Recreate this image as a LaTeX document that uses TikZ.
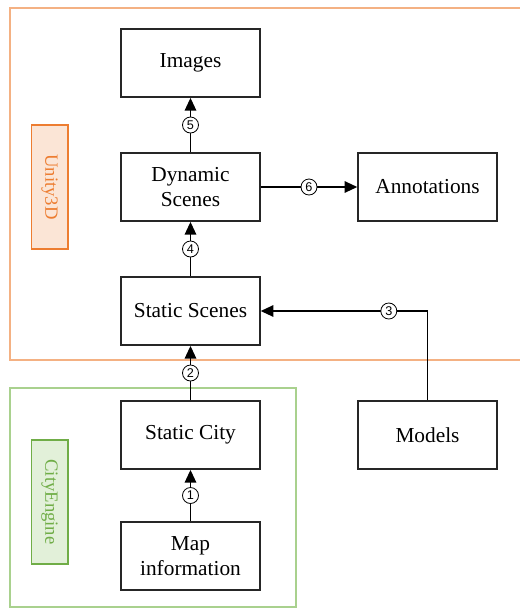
\documentclass[tikz,border=0pt]{standalone}
\usepackage{fontspec}
\setmainfont{Liberation Serif}
\setsansfont{Liberation Sans}
\usetikzlibrary{arrows.meta}
\definecolor{unityline}{HTML}{F4B183}
\definecolor{unitydark}{HTML}{ED7D31}
\definecolor{unityfill}{HTML}{FBE5D6}
\definecolor{cityline} {HTML}{A9D18E}
\definecolor{citydark} {HTML}{70AD47}
\definecolor{cityfill} {HTML}{E2F0D9}
\tikzset{
stepbox/.style={draw=black!85, line width=1.3pt, minimum width=104pt, minimum height=51pt, align=center, font=\fontsize{16}{19}\selectfont},
num/.style={circle, draw, fill=white, line width=0.6pt, inner sep=0pt, minimum size=12pt, font=\sffamily\fontsize{9.5}{9.5}\selectfont},
flow/.style={line width=1.4pt, -{Triangle[length=9.5pt,width=8.5pt]}},
region/.style={line width=1.5pt},
tag/.style={draw, line width=1pt, minimum width=93pt, minimum height=27.5pt, inner sep=0pt, rotate=-90, font=\fontsize{14}{16}\selectfont},
}

\begin{document}
\begin{tikzpicture}[x=0.75pt, y=-0.75pt]
    \clip (0,0) rectangle (520,608);
    % tool regions
    \draw [region, unityline] (10,8) rectangle (540,360);
    \draw [region, cityline] (10,388) rectangle (296,607);
    \node [tag, draw=unitydark, fill=unityfill, text=unitydark] (unity) at (49.5,187) {Unity3D};
    \node [tag, draw=citydark, fill=cityfill, text=citydark] (cityengine) at (49.5,502) {CityEngine};
    % steps
    \node [stepbox] (images) at (190.5,63) {Images};
    \node [stepbox] (dynamic) at (190.5,187) {Dynamic\\Scenes};
    \node [stepbox] (annot) at (427.5,187) {Annotations};
    \node [stepbox] (static) at (190.5,311) {Static Scenes};
    \node [stepbox] (city) at (190.5,435) {Static City};
    \node [stepbox] (models) at (427.5,435) {Models};
    \node [stepbox] (map) at (190.5,556) {Map\\information};
    % flow
    \draw [flow] (map) -- node [num] {1} (city);
    \draw [flow] (city) -- node [num] {2} (static);
    \draw [flow] (models.north) |- node [num, pos=0.616] {3} (static.east);
    \draw [flow] (static) -- node [num] {4} (dynamic);
    \draw [flow] (dynamic) -- node [num] {5} (images);
    \draw [flow] (dynamic) -- node [num] {6} (annot);
\end{tikzpicture}
\end{document}
